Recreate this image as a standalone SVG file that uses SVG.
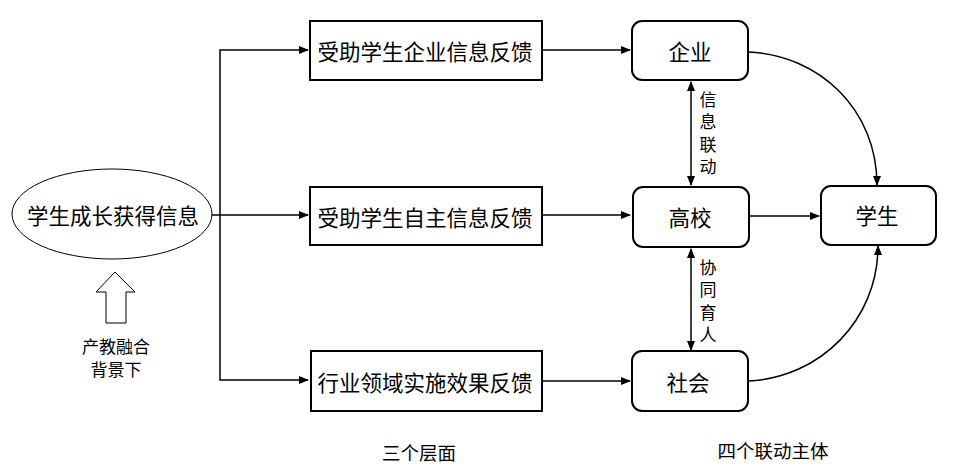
<svg xmlns="http://www.w3.org/2000/svg" width="953" height="473" viewBox="0 0 953 473">
<defs>
<marker id="ah" markerWidth="10" markerHeight="8" refX="9" refY="4" orient="auto-start-reverse" markerUnits="userSpaceOnUse">
<path d="M0,0 L10,4 L0,8 Z" fill="#000"/>
</marker>
<style>
text{font-family:"Noto Sans CJK SC","Liberation Sans",sans-serif;fill:#000;text-anchor:middle;dominant-baseline:central}
.big{font-size:21.5px}
.sm{font-size:17px}
.lb{font-size:18.5px}
.vt{font-size:17px;writing-mode:vertical-rl;text-anchor:start;letter-spacing:5.5px}
.box{fill:#fff;stroke:#000;stroke-width:2}
.c{fill:none;stroke:#000;stroke-width:1.5}
</style>
</defs>
<rect width="953" height="473" fill="#fff"/>
<g id="connectors">
<path class="c" d="M212,215 H308" marker-end="url(#ah)"/>
<path class="c" d="M220,215 V50 H308" marker-end="url(#ah)"/>
<path class="c" d="M220,215 V380 H308" marker-end="url(#ah)"/>
<path class="c" d="M542,50 H630" marker-end="url(#ah)"/>
<path class="c" d="M542,215 H630" marker-end="url(#ah)"/>
<path class="c" d="M542,381 H630" marker-end="url(#ah)"/>
<path class="c" d="M749,216 H819" marker-end="url(#ah)"/>
<path class="c" d="M691,82 V185" marker-start="url(#ah)" marker-end="url(#ah)"/>
<path class="c" d="M691,249 V350" marker-start="url(#ah)" marker-end="url(#ah)"/>
<path class="c" d="M748,52 C820,55 877,110 877,185" marker-end="url(#ah)"/>
<path class="c" d="M748,381 C820,378 878,320 878,246" marker-end="url(#ah)"/>
</g>
<g id="source">
<ellipse cx="112" cy="214" rx="100" ry="45" fill="#fff" stroke="#000" stroke-width="1"/>
<text class="big" x="113" y="214">学生成长获得信息</text>
</g>
<g id="background">
<path d="M115,272 L135,292 L126,292 L126,323 L106,323 L106,292 L96,292 Z" fill="#fff" stroke="#000" stroke-width="1"/>
<text class="sm" x="116" y="345">产教融合</text>
<text class="sm" x="116" y="368">背景下</text>
</g>
<g id="fb1">
<rect class="box" x="310" y="21" width="232" height="59"/>
<text class="big" x="425" y="50">受助学生企业信息反馈</text>
</g>
<g id="fb2">
<rect class="box" x="310" y="187" width="232" height="58"/>
<text class="big" x="425" y="216">受助学生自主信息反馈</text>
</g>
<g id="fb3">
<rect class="box" x="311" y="351" width="231" height="60"/>
<text class="big" x="425" y="381">行业领域实施效果反馈</text>
</g>
<g id="qiye">
<rect class="box" x="632" y="21" width="116" height="59" rx="10"/>
<text class="big" x="690" y="50">企业</text>
</g>
<g id="gaoxiao">
<rect class="box" x="633" y="187" width="116" height="60" rx="10"/>
<text class="big" x="690" y="216">高校</text>
</g>
<g id="shehui">
<rect class="box" x="632" y="351" width="116" height="60" rx="10"/>
<text class="big" x="688" y="381">社会</text>
</g>
<g id="xuesheng">
<rect class="box" x="821" y="186" width="115" height="59" rx="10"/>
<text class="big" x="877" y="214">学生</text>
</g>
<g id="labels">
<text class="vt" x="708" y="91">信息联动</text>
<text class="vt" x="708" y="259">协同育人</text>
<text class="lb" x="419" y="452">三个层面</text>
<text class="lb" x="773" y="450">四个联动主体</text>
</g>
</svg>
